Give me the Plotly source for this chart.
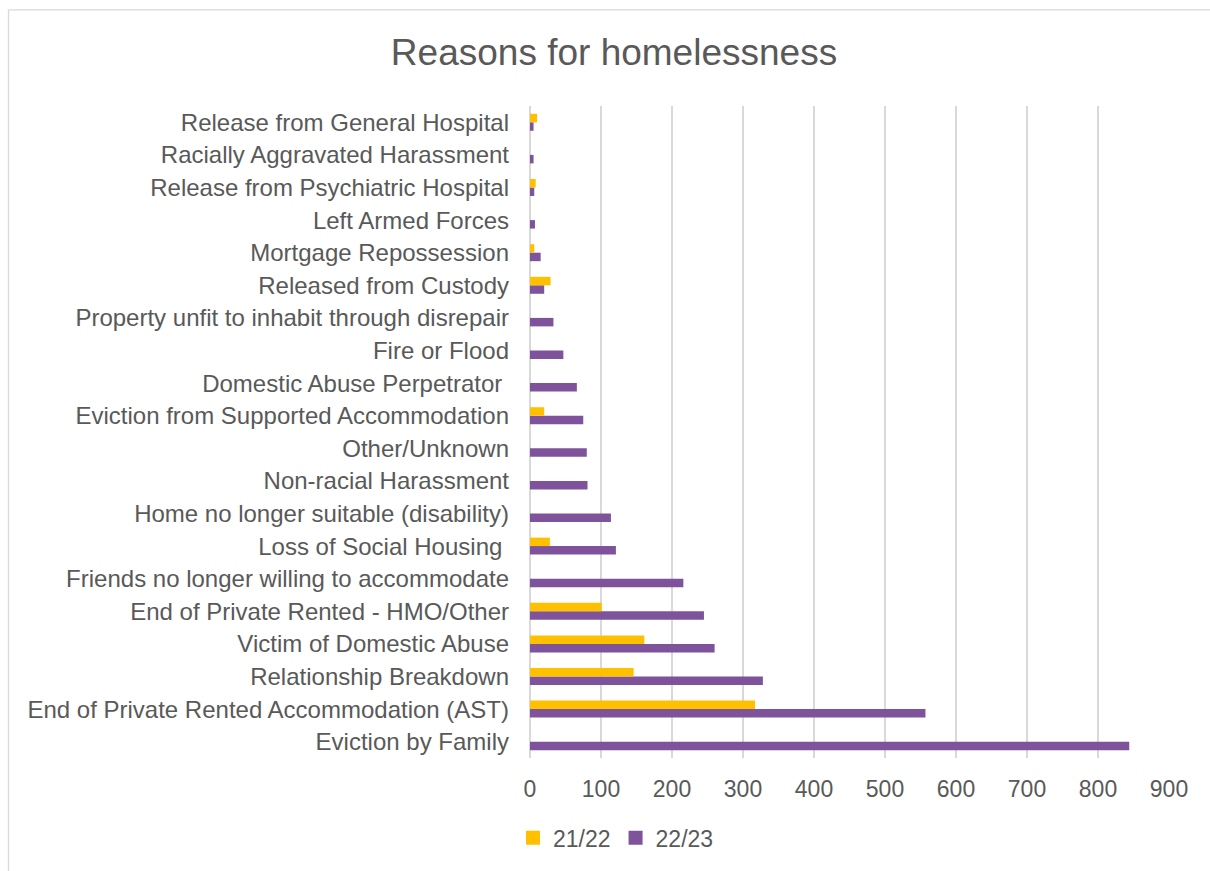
import plotly.graph_objects as go

# Reasons listed bottom-to-top as they appear on the y axis
reasons = [
    "Eviction by Family",
    "End of Private Rented Accommodation (AST)",
    "Relationship Breakdown",
    "Victim of Domestic Abuse",
    "End of Private Rented - HMO/Other",
    "Friends no longer willing to accommodate",
    "Loss of Social Housing ",
    "Home no longer suitable (disability)",
    "Non-racial Harassment",
    "Other/Unknown",
    "Eviction from Supported Accommodation",
    "Domestic Abuse Perpetrator ",
    "Fire or Flood",
    "Property unfit to inhabit through disrepair",
    "Released from Custody",
    "Mortgage Repossession",
    "Left Armed Forces",
    "Release from Psychiatric Hospital",
    "Racially Aggravated Harassment",
    "Release from General Hospital",
]

cases_2122 = [0, 317, 146, 161, 101, 0, 28, 0, 0, 0, 20, 0, 0, 0, 29, 6, 0, 8, 0, 10]
cases_2223 = [844, 557, 328, 260, 245, 216, 121, 114, 81, 80, 75, 66, 47, 33, 20, 15, 7, 6, 5, 5]

x_ticks = [0, 100, 200, 300, 400, 500, 600, 700, 800, 900]

TEXT = "#595959"
GRID = "#D9D9D9"
YELLOW = "#FFC000"
PURPLE = "#7F539B"
FONT = "Liberation Sans, Arial, sans-serif"

fig = go.Figure()
# 22/23 goes in first so that it sits below 21/22 within each group
fig.add_trace(go.Bar(
    y=reasons, x=cases_2223, orientation="h", name="22/23",
    marker=dict(color=PURPLE, line=dict(width=0)), showlegend=False,
))
fig.add_trace(go.Bar(
    y=reasons, x=cases_2122, orientation="h", name="21/22",
    marker=dict(color=YELLOW, line=dict(width=0)), showlegend=False,
))

# Legend entries with larger square keys
for name, color in (("21/22", YELLOW), ("22/23", PURPLE)):
    fig.add_trace(go.Scatter(
        x=[None], y=[None], mode="markers", name=name,
        marker=dict(symbol="square", size=14, color=color),
        showlegend=True,
    ))

L, R, T, B = 530, 41, 106, 111
W, H = 1210, 871
pw, ph = W - L - R, H - T - B

def px_x(p):
    return (p - L) / pw

def px_y(p):
    return (H - B - p) / ph

fig.update_layout(
    width=W, height=H,
    margin=dict(l=L, r=R, t=T, b=B),
    paper_bgcolor="white", plot_bgcolor="white",
    font=dict(family=FONT, color=TEXT, size=22),
    barmode="group", bargap=0.48, bargroupgap=0,
    title=dict(
        text="Reasons for homelessness",
        font=dict(size=37, color=TEXT, family=FONT),
        xref="paper", x=px_x(614), xanchor="center",
        yref="container", y=1 - 52 / H, yanchor="middle",
    ),
    xaxis=dict(
        range=[0, 900], tickvals=x_ticks, showgrid=True, gridcolor=GRID,
        gridwidth=1.5, zeroline=True, zerolinecolor=GRID, zerolinewidth=1.5,
        showline=False, ticks="", tickfont=dict(size=23, color=TEXT),
        ticklabelstandoff=15, fixedrange=True,
    ),
    yaxis=dict(
        showgrid=False, zeroline=False, showline=False, ticks="",
        tickfont=dict(size=24, color=TEXT), ticklabelstandoff=20,
        fixedrange=True,
    ),
    legend=dict(
        orientation="h", x=px_x(616), xanchor="center",
        y=px_y(840), yanchor="middle",
        font=dict(size=23, color=TEXT), itemwidth=30,
        traceorder="normal",
    ),
    showlegend=True,
    shapes=[
        dict(type="line", xref="paper", yref="paper",
             x0=px_x(8.5), x1=px_x(1215), y0=px_y(9.5), y1=px_y(9.5),
             line=dict(color=GRID, width=1.3)),
        dict(type="line", xref="paper", yref="paper",
             x0=px_x(8.5), x1=px_x(8.5), y0=px_y(9.5), y1=px_y(875),
             line=dict(color=GRID, width=1.3)),
    ],
)

fig.write_html("out.html")
